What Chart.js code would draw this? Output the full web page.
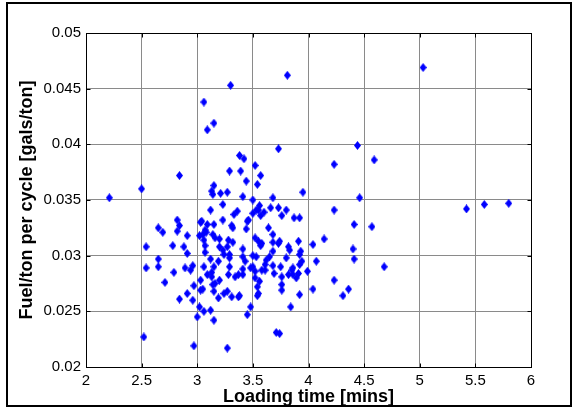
<!DOCTYPE html>
<html>
<head>
<meta charset="utf-8">
<script src="https://cdn.jsdelivr.net/npm/chart.js@4"></script>
<style>
body{margin:0;background:#fff}
canvas{display:block}
</style>
</head>
<body>
<canvas id="c" width="579" height="414"></canvas>
<script>
// loading time (mins) for each cycle
const loadTime = [
3.30,3.06,3.15,3.09,3.81,3.73,4.44,5.03,
2.21,2.50,2.84,3.29,3.38,3.13,3.15,3.14,3.21,3.27,3.12,3.23,3.36,3.33,2.82,2.84,2.82,2.65,2.69,2.91,2.78,2.54,2.91,2.65,2.54,2.65,
3.03,3.04,3.09,3.15,3.23,3.31,3.32,3.07,3.02,3.05,3.14,3.16,3.06,3.20,3.28,3.32,3.07,3.20,3.23,3.27,3.07,3.24,3.29,3.12,3.19,3.29,3.06,3.15,3.29,
4.23,4.59,3.95,4.46,4.23,4.41,4.57,4.14,4.04,4.40,4.41,4.07,4.68,
3.42,3.39,3.52,3.57,3.44,3.54,3.41,3.68,3.50,3.56,3.53,3.66,3.73,3.80,3.60,3.57,3.76,3.87,3.92,3.45,3.64,3.44,3.68,3.52,3.55,3.57,3.68,3.74,3.73,3.91,3.82,3.83,3.93,3.92,3.41,3.68,3.41,3.43,3.50,3.53,3.65,3.62,3.80,3.94,3.61,3.68,3.92,3.50,3.86,
4.23,4.36,4.31,4.04,3.92,3.84,3.99,3.89,3.86,3.82,3.76,3.76,3.76,
2.79,2.71,2.89,2.94,2.96,2.84,2.91,2.96,2.97,3.03,3.03,3.05,3.09,3.13,3.14,3.15,3.19,3.24,3.27,3.31,3.20,3.28,3.34,3.02,3.06,3.00,3.12,3.15,2.52,2.97,3.27,3.37,
3.48,3.52,3.56,3.55,3.54,3.48,3.45,3.38,3.41,3.37,3.61,3.69,3.71,3.74,3.91,3.85,
5.42,5.58,5.80,
3.55,3.46,3.50,3.08,3.58,3.75,3.58,3.41,2.88,3.52,3.54,3.13,3.16
]
// fuel per ton per cycle (gals/ton)
const fuelPerTon = [
0.0453,0.0438,0.0419,0.0413,0.0462,0.0396,0.0399,0.0469,
0.0352,0.0360,0.0372,0.0376,0.0390,0.0358,0.0363,0.0355,0.0356,0.0357,0.0341,0.0346,0.0340,0.0337,0.0332,0.0327,0.0322,0.0325,0.0321,0.0318,0.0309,0.0308,0.0302,0.0297,0.0289,0.0290,
0.0330,0.0331,0.0328,0.0328,0.0332,0.0327,0.0325,0.0323,0.0318,0.0319,0.0319,0.0316,0.0314,0.0315,0.0314,0.0312,0.0309,0.0308,0.0305,0.0308,0.0303,0.0301,0.0301,0.0297,0.0295,0.0298,0.0290,0.0290,0.0290,
0.0382,0.0386,0.0357,0.0352,0.0341,0.0328,0.0326,0.0315,0.0310,0.0306,0.0297,0.0295,0.0290,
0.0387,0.0376,0.0381,0.0372,0.0367,0.0364,0.0353,0.0352,0.0350,0.0345,0.0341,0.0343,0.0343,0.0341,0.0339,0.0336,0.0336,0.0334,0.0334,0.0331,0.0325,0.0324,0.0319,0.0316,0.0313,0.0309,0.0312,0.0313,0.0311,0.0313,0.0308,0.0305,0.0304,0.0301,0.0306,0.0304,0.0299,0.0295,0.0300,0.0299,0.0299,0.0296,0.0298,0.0295,0.0292,0.0291,0.0292,0.0290,0.0289,
0.0278,0.0270,0.0264,0.0270,0.0265,0.0254,0.0286,0.0280,0.0283,0.0283,0.0281,0.0274,0.0269,
0.0285,0.0276,0.0289,0.0287,0.0291,0.0261,0.0266,0.0260,0.0273,0.0269,0.0278,0.0270,0.0283,0.0285,0.0274,0.0268,0.0262,0.0266,0.0268,0.0263,0.0278,0.0283,0.0281,0.0254,0.0250,0.0245,0.0251,0.0242,0.0227,0.0219,0.0217,0.0263,
0.0289,0.0286,0.0277,0.0266,0.0264,0.0254,0.0247,0.0264,0.0283,0.0283,0.0287,0.0284,0.0231,0.0230,0.0284,0.0287,
0.0342,0.0346,0.0347,
0.0341,0.0332,0.0338,0.0321,0.0311,0.0290,0.0287,0.0288,0.0308,0.0280,0.0272,0.0281,0.0275
]
const xTicks = [2,2.5,3,3.5,4,4.5,5,5.5,6]
const yTicks = [0.02,0.025,0.03,0.035,0.04,0.045,0.05]

// matlab style diamond marker
const marker = document.createElement("canvas")
marker.width = 7
marker.height = 9
const mctx = marker.getContext("2d")
mctx.fillStyle = "#0000ff"
mctx.beginPath()
mctx.moveTo(3.5,0)
mctx.lineTo(7,4.5)
mctx.lineTo(3.5,9)
mctx.lineTo(0,4.5)
mctx.closePath()
mctx.fill()

const font = "'Liberation Sans', Arial, sans-serif"

// white background, axes box, inner tick marks, figure frame
const framePlugin = {
id:"frame",
beforeDraw(chart){
const ctx = chart.ctx
ctx.save()
ctx.fillStyle = "#fff"
ctx.fillRect(0,0,chart.width,chart.height)
ctx.restore()
},
afterDraw(chart){
const ctx = chart.ctx
const a = chart.chartArea
const l = Math.round(a.left)+0.5, r = Math.round(a.right)+0.5
const t = Math.round(a.top)+0.5, b = Math.round(a.bottom)+0.5
ctx.save()
ctx.strokeStyle = "#000"
ctx.lineWidth = 1
ctx.strokeRect(l,t,r-l,b-t)
ctx.beginPath()
chart.scales.x.ticks.forEach(tk=>{
const px = Math.round(chart.scales.x.getPixelForValue(tk.value))+0.5
ctx.moveTo(px,b); ctx.lineTo(px,b-4)
ctx.moveTo(px,t); ctx.lineTo(px,t+4)
})
chart.scales.y.ticks.forEach(tk=>{
const py = Math.round(chart.scales.y.getPixelForValue(tk.value))+0.5
ctx.moveTo(l,py); ctx.lineTo(l+4,py)
ctx.moveTo(r,py); ctx.lineTo(r-4,py)
})
ctx.stroke()
ctx.lineWidth = 2
ctx.strokeRect(7,3,564,403)
ctx.restore()
}
}

new Chart(document.getElementById("c"),{
type:"scatter",
data:{
datasets:[
{
data:loadTime.map((t,i)=>({x:t,y:fuelPerTon[i]})),
pointStyle:marker,
pointRadius:4,
backgroundColor:"#0000ff",
borderColor:"#0000ff"
}
]
},
options:{
responsive:false,
animation:false,
layout:{padding:{left:0,top:33,right:48,bottom:0}},
plugins:{legend:{display:false},tooltip:{enabled:false}},
scales:{
x:{
type:"linear",
min:2,
max:6,
afterBuildTicks(s){ s.ticks = xTicks.map(v=>({value:v})) },
afterFit(s){ s.height = 47 },
grid:{color:"#8a8a8a",drawTicks:false},
border:{display:false},
ticks:{padding:5,color:"#000",autoSkip:false,maxRotation:0,font:{family:font,size:15},callback:v=>String(v)},
title:{display:true,text:"Loading time [mins]",color:"#000",font:{family:font,size:18,weight:"bold"},padding:{top:0,bottom:6}}
},
y:{
type:"linear",
min:0.02,
max:0.05,
afterBuildTicks(s){ s.ticks = yTicks.map(v=>({value:v})) },
afterFit(s){ s.width = 86 },
grid:{color:"#8a8a8a",drawTicks:false},
border:{display:false},
ticks:{padding:5,color:"#000",autoSkip:false,font:{family:font,size:15},callback:v=>String(v)},
title:{display:true,text:"Fuel/ton per cycle [gals/ton]",color:"#000",font:{family:font,size:18,weight:"bold"},padding:{top:16,bottom:0}}
}
}
},
plugins:[framePlugin]
})
</script>
</body>
</html>
